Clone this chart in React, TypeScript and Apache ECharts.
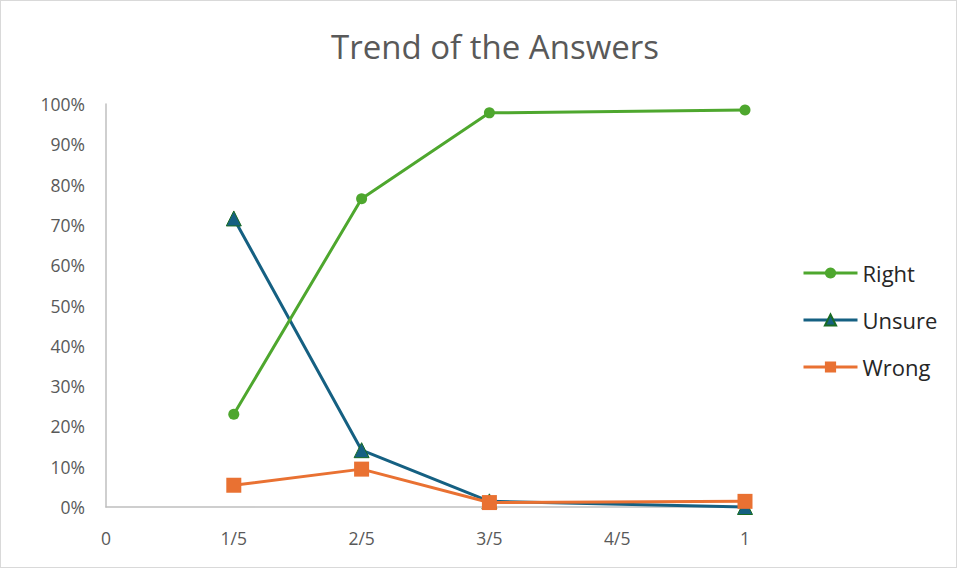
import React, { useEffect, useRef } from "react";
import * as echarts from "echarts";

const xValues = [0.2, 0.4, 0.6, 1.0];
const xTickLabels = ["0", "1/5", "2/5", "3/5", "4/5", "1"];
const rightValues = [0.23, 0.765, 0.978, 0.985];
const unsureValues = [0.716, 0.141, 0.014, 0.0];
const wrongValues = [0.054, 0.094, 0.011, 0.014];
const seriesNames = ["Right", "Unsure", "Wrong"];

const FONT = "'Open Sans', 'Liberation Sans', sans-serif";

export default function App() {
  const ref = useRef<HTMLDivElement>(null);
  useEffect(() => {
    if (!ref.current) return;
    const chart = echarts.init(ref.current, undefined, { renderer: "svg" });
    const pair = (vals: number[]) => vals.map((v, i) => [xValues[i], v]);
    chart.setOption({
      animation: false,
      backgroundColor: "#ffffff",
      title: {
        text: "Trend of the Answers",
        left: 489,
        textAlign: "center",
        top: 24,
        textStyle: { fontFamily: FONT, fontSize: 33, fontWeight: "normal", color: "#595959" },
      },
      legend: {
        orient: "vertical",
        left: 796,
        top: 256,
        itemGap: 25,
        itemWidth: 54,
        itemHeight: 14,
        data: seriesNames,
        lineStyle: { width: 3 },
        textStyle: { fontFamily: FONT, fontSize: 22, color: "#262626" },
      },
      grid: { left: 105, right: 211, top: 103, bottom: 60, containLabel: false },
      xAxis: {
        type: "value",
        min: 0,
        max: 1,
        interval: 0.2,
        axisLine: { show: true, lineStyle: { color: "#bfbfbf", width: 1.5 } },
        axisTick: { show: false },
        splitLine: { show: false },
        axisLabel: {
          margin: 22,
          fontFamily: FONT,
          fontSize: 17.5,
          color: "#595959",
          formatter: (v: number) => xTickLabels[Math.round(v * 5)] ?? "",
        },
      },
      yAxis: {
        type: "value",
        min: 0,
        max: 1,
        interval: 0.1,
        axisLine: { show: true, lineStyle: { color: "#bfbfbf", width: 1.5 } },
        axisTick: { show: false },
        splitLine: { show: false },
        axisLabel: {
          margin: 21,
          fontFamily: FONT,
          fontSize: 17.5,
          color: "#595959",
          formatter: (v: number) => Math.round(v * 100) + "%",
        },
      },
      series: [
        {
          name: seriesNames[0],
          type: "line",
          data: pair(rightValues),
          symbol: "circle",
          symbolSize: 11,
          clip: false,
          lineStyle: { color: "#4EA72E", width: 3 },
          itemStyle: { color: "#4EA72E" },
          z: 3,
        },
        {
          name: seriesNames[1],
          type: "line",
          data: pair(unsureValues),
          symbol: "triangle",
          symbolSize: 15,
          clip: false,
          lineStyle: { color: "#156082", width: 3 },
          itemStyle: { color: "#156082", borderColor: "#196B24", borderWidth: 1 },
          z: 2,
        },
        {
          name: seriesNames[2],
          type: "line",
          data: pair(wrongValues),
          symbol: "rect",
          symbolSize: 15,
          clip: false,
          lineStyle: { color: "#E97132", width: 3 },
          itemStyle: { color: "#E97132" },
          z: 4,
        },
      ],
    });
    return () => chart.dispose();
  }, []);
  return (
    <div
      ref={ref}
      style={{
        position: "fixed",
        left: 0,
        top: 0,
        width: 957,
        height: 568,
        boxSizing: "border-box",
        border: "1px solid #d9d9d9",
        background: "#fff",
      }}
    />
  );
}
